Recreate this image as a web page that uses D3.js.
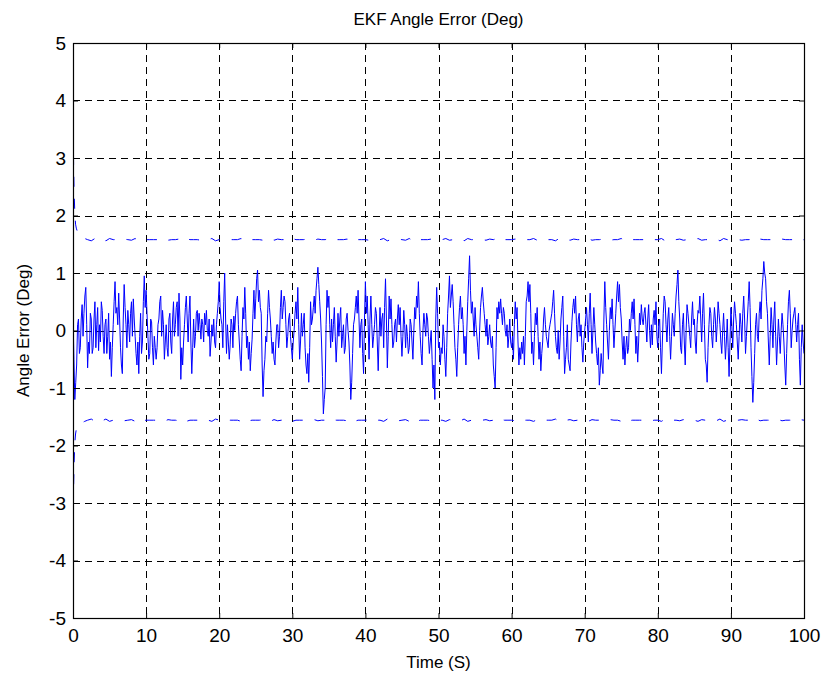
<!DOCTYPE html>
<html><head><meta charset="utf-8">
<script src="https://cdn.jsdelivr.net/npm/d3@7/dist/d3.min.js"></script>
<style>body{margin:0;background:#fff}svg{display:block}</style></head>
<body><svg id="c" width="825" height="679"></svg>
<script>
// ---- data ----
const titleText = "EKF Angle Error (Deg)";
const xLabelText = "Time (S)";
const yLabelText = "Angle Error (Deg)";
const xTicks = [0,10,20,30,40,50,60,70,80,90,100];
const yTicks = [-5,-4,-3,-2,-1,0,1,2,3,4,5];
const sampleStep = 0.25; // seconds between the samples of angleError
const angleError = [
 0.3,-1.2,-0.6,0.2,-0.3,0.45,0.3,0.75,-0.65,-0.4,0.2,-0.3,0.5,0.1,-0.35,-0.2,0.35,-0.4,0.2,-0.1,
 -0.5,-0.8,0.1,0.85,0.4,0.65,-0.3,-0.75,0.8,0.1,0.35,-0.2,0.5,0.55,-0.1,-0.6,-0.75,0.3,-0.2,0.95,
 0.7,-0.1,-0.4,0.15,-0.6,-0.3,-0.3,0.2,0.6,0.35,-0.5,0.1,-0.45,0.3,-0.4,0.5,0.1,0.5,0.65,-0.85,
 -0.6,0.1,0.6,-0.2,0.6,-0.75,0.2,-0.1,0.35,0.3,-0.15,0.1,0.3,0.35,-0.1,-0.45,0.1,0.2,-0.3,0.3,
 0.85,0.2,-0.3,1.0,-0.4,-0.2,-0.25,0.1,0.25,0.3,0.6,-0.2,-0.7,0.4,0.75,-0.3,-0.5,-0.7,-0.15,0.7,
 0.55,1.05,0.7,0.3,-1.15,-0.5,-0.2,0.7,0.2,-0.4,-0.5,-0.2,0.1,-0.1,0.7,0.4,0.5,-0.3,0.2,-0.1,
 -0.5,0.0,0.5,0.75,-0.5,0.3,0.1,-0.3,-0.75,-0.9,0.5,0.2,0.6,0.7,1.1,0.5,-0.2,-1.45,-1.0,0.7,
 0.6,-0.3,-0.2,0.4,-0.55,0.3,0.2,-0.3,0.1,-0.3,0.3,-0.2,-1.2,-0.4,0.2,0.6,0.7,-0.3,0.2,-0.75,
 0.85,0.6,-0.5,0.6,-0.3,0.1,0.3,-0.7,0.4,0.2,-0.3,0.9,-0.65,0.6,0.55,-0.3,0.1,-0.2,0.45,0.4,
 -0.45,0.35,-0.3,-0.1,-0.3,0.1,-0.5,0.4,0.6,0.85,-0.1,-0.6,0.3,-0.1,0.2,-0.4,0.0,-1.0,-1.2,0.75,
 -0.3,-0.6,-0.4,-0.1,-0.8,0.3,0.95,0.6,0.5,-0.3,-0.8,0.1,0.6,0.4,-0.4,-0.6,0.5,1.3,0.3,0.2,
 0.4,-0.1,-0.5,0.4,0.75,0.3,-0.1,-0.25,0.1,-0.3,-0.6,-1.0,0.4,0.5,0.55,0.1,0.3,-0.1,-0.3,0.2,
 -0.3,-0.5,0.5,0.4,-0.6,-0.5,-0.4,-0.6,0.5,0.85,0.8,-0.4,-0.6,0.3,0.4,-0.5,-0.7,-0.2,0.4,-0.1,
 -0.3,0.1,0.3,0.7,-0.1,-0.4,-0.5,0.2,0.6,-0.75,-0.3,-0.5,-0.7,0.15,0.55,0.6,-0.2,0.3,0.1,-0.55,
 0.0,0.4,-0.2,0.65,-0.4,0.4,-0.2,-0.6,-0.95,-0.4,-0.75,0.85,0.1,-0.5,0.4,0.55,-0.3,0.3,0.85,0.8,
 0.2,-0.5,-0.6,-0.1,-0.3,0.0,0.5,0.55,-0.4,-0.55,0.3,0.45,0.1,0.4,-0.2,0.45,-0.3,-0.25,0.35,0.5,
 -0.3,0.2,-0.75,0.3,0.5,-0.2,0.4,-0.5,0.3,-0.1,0.6,1.05,0.2,-0.4,0.3,-0.6,0.45,0.1,-0.3,0.5,
 0.2,-0.4,0.35,0.6,-0.2,0.65,-0.5,-0.9,0.1,0.3,-0.3,0.4,-0.2,0.5,0.1,-0.4,0.3,-0.5,0.2,-0.8,
 0.4,-0.3,0.5,0.1,-0.5,0.3,-0.2,0.6,-0.4,0.2,0.85,-0.3,-1.25,-0.4,0.3,-0.2,0.5,0.7,1.2,0.9,
 0.3,-0.6,0.4,-0.3,0.5,-0.6,0.2,-0.4,0.3,-0.2,-0.95,0.1,0.7,-0.3,0.2,0.4,-0.2,0.3,-0.95,0.1,
 -0.4
];
// samples half-way between those above (t = 0.125, 0.375, ...)
const angleErrorMid = [
 -0.5,-0.9,0.1,-0.4,0.2,-0.1,0.6,0.1,-0.2,0.3,-0.4,0.2,-0.3,0.4,0.1,0.5,-0.1,0.1,-0.4,0.3,
 -0.2,-0.3,0.5,0.3,0.1,0.2,-0.6,0.2,0.4,-0.3,0.1,0.3,-0.1,0.2,-0.4,-0.2,-0.1,-0.4,0.5,0.4,
 0.3,-0.5,0.2,-0.3,-0.1,-0.5,0.1,0.5,-0.1,0.1,-0.2,-0.3,0.2,-0.2,0.2,-0.1,0.4,-0.1,0.2,-0.3,
 -0.2,0.4,0.2,0.3,-0.2,-0.3,-0.3,0.3,0.0,0.1,0.2,-0.2,0.1,0.0,0.2,-0.2,-0.1,-0.2,0.1,0.5,
 0.4,0.1,0.5,0.2,0.1,-0.5,0.2,-0.3,0.0,0.5,0.1,-0.5,-0.1,0.2,0.3,-0.1,-0.2,-0.4,0.3,0.2,
 0.9,0.5,0.4,-0.6,-0.7,-0.1,0.3,0.4,-0.1,-0.2,-0.6,0.1,-0.3,0.4,0.2,0.6,0.1,-0.1,0.3,-0.3,
 -0.2,0.3,0.2,0.1,-0.2,-0.1,0.3,-0.6,-0.4,-0.3,0.1,0.4,0.3,0.9,0.8,0.2,-0.8,-1.2,0.1,0.4,
 0.1,0.2,0.1,-0.1,-0.2,-0.1,0.4,-0.1,-0.4,0.2,0.0,-0.6,-0.9,0.1,0.4,0.3,0.2,0.1,-0.4,0.2,
 0.3,0.1,0.2,0.1,-0.1,0.4,-0.2,-0.1,-0.1,0.3,0.4,0.2,-0.1,0.2,0.1,-0.2,0.2,0.2,0.1,-0.1,
 -0.1,0.1,0.1,-0.4,0.2,-0.2,0.0,0.2,0.4,0.3,-0.4,0.0,0.1,0.3,-0.1,-0.2,-0.5,-0.6,0.2,0.3,
 -0.2,-0.3,0.1,-0.5,-0.3,0.6,0.4,0.8,0.1,-0.5,-0.3,0.4,0.2,0.1,-0.1,0.0,0.9,0.7,0.5,-0.1,
 0.1,-0.3,0.0,0.6,0.5,0.1,0.2,-0.1,-0.2,-0.1,-0.8,-0.3,0.2,0.3,0.3,0.4,0.0,0.1,-0.1,-0.2,
 -0.1,0.1,0.2,-0.2,-0.3,-0.2,-0.1,-0.1,0.6,0.5,0.3,-0.2,-0.1,0.1,-0.1,-0.2,-0.4,0.2,0.1,-0.2,
 0.0,0.2,0.5,0.3,-0.3,0.0,-0.2,0.4,-0.1,-0.5,0.1,-0.6,-0.2,0.4,0.3,0.1,0.2,-0.1,-0.3,-0.2,
 0.2,0.1,0.3,0.1,0.0,0.1,-0.4,-0.3,-0.7,-0.6,0.2,0.4,-0.2,0.0,0.2,0.1,0.0,0.6,0.5,0.4,
 -0.2,-0.1,-0.3,-0.4,0.2,0.3,0.2,0.1,-0.1,-0.2,0.1,0.2,0.3,0.1,0.2,0.0,0.1,0.2,0.1,-0.1,
 0.1,-0.3,-0.2,0.6,0.1,0.2,-0.1,-0.1,0.1,0.3,0.8,0.5,-0.3,0.1,-0.2,0.0,0.3,-0.1,0.2,0.1,
 -0.2,0.1,0.3,0.2,0.3,0.1,-0.6,-0.3,0.4,-0.1,0.1,0.2,0.1,0.3,-0.2,0.0,-0.1,-0.2,-0.3,-0.2,
 0.1,0.2,0.3,-0.2,-0.1,0.1,0.3,0.2,-0.1,0.5,0.4,-0.8,-0.9,0.1,-0.1,0.3,0.2,0.9,1.0,0.5,
 -0.2,-0.1,0.1,0.2,-0.1,-0.2,-0.1,0.0,0.1,-0.6,-0.4,0.5,0.3,0.0,0.3,0.1,0.1,-0.5,-0.3,-0.2
];
// 3-sigma bounds: early transient (time, value) then steady part every 0.5 s from t = 2
const upperEarlyTimes = [0,0.03,0.08,0.15,0.25,0.35,0.45,0.6,0.8,1.0,1.3,1.6];
const upperEarly = [6.5,3.6,2.9,2.4,2.05,1.85,1.78,1.72,1.68,1.66,1.63,1.60];
const lowerEarlyTimes = [0,0.03,0.08,0.15,0.25,0.35,0.45,0.6,0.8,1.0,1.3,1.6];
const lowerEarly = [-6.5,-3.6,-2.75,-2.3,-1.95,-1.8,-1.72,-1.67,-1.64,-1.62,-1.6,-1.58];
const boundStart = 2, boundStep = 0.5;
const upperSteady = [
 1.58,1.56,1.60,1.57,1.59,1.56,1.60,1.58,1.58,1.58,1.59,1.58,1.57,1.60,1.56,1.59,1.58,1.58,1.58,1.58,
 1.58,1.60,1.57,1.58,1.58,1.59,1.56,1.60,1.58,1.58,1.58,1.57,1.59,1.58,1.60,1.56,1.58,1.58,1.59,1.58,
 1.58,1.58,1.60,1.56,1.59,1.58,1.58,1.58,1.57,1.58,1.60,1.57,1.59,1.58,1.58,1.56,1.60,1.58,1.58,1.58,
 1.59,1.58,1.57,1.59,1.58,1.58,1.60,1.57,1.58,1.58,1.58,1.59,1.56,1.60,1.58,1.58,1.58,1.57,1.59,1.58,
 1.58,1.60,1.56,1.58,1.58,1.59,1.58,1.57,1.60,1.56,1.60,1.58,1.58,1.58,1.59,1.57,1.58,1.58,1.60,1.57,
 1.58,1.58,1.59,1.56,1.60,1.58,1.58,1.58,1.58,1.57,1.59,1.58,1.60,1.56,1.58,1.58,1.58,1.59,1.57,1.58,
 1.58,1.58,1.60,1.57,1.59,1.58,1.58,1.58,1.56,1.60,1.58,1.58,1.57,1.59,1.58,1.58,1.58,1.60,1.57,1.58,
 1.58,1.59,1.58,1.57,1.58,1.58,1.60,1.56,1.59,1.58,1.58,1.58,1.58,1.57,1.59,1.58,1.58,1.60,1.56,1.58,
 1.58,1.58,1.59,1.57,1.58,1.58,1.58,1.60,1.57,1.58,1.58,1.58,1.59,1.56,1.60,1.58,1.58,1.58,1.58,1.57,
 1.58,1.58,1.60,1.56,1.59,1.58,1.58,1.58,1.58,1.57,1.59,1.58,1.58,1.58,1.60,1.57,1.58
];
const lowerSteady = [
 -1.56,-1.54,-1.58,-1.55,-1.57,-1.54,-1.58,-1.56,-1.56,-1.56,-1.57,-1.56,-1.55,-1.58,-1.54,-1.57,-1.56,-1.56,-1.56,-1.56,
 -1.56,-1.58,-1.55,-1.56,-1.56,-1.57,-1.54,-1.58,-1.56,-1.56,-1.56,-1.55,-1.57,-1.56,-1.58,-1.54,-1.56,-1.56,-1.57,-1.56,
 -1.56,-1.56,-1.58,-1.54,-1.57,-1.56,-1.56,-1.56,-1.55,-1.56,-1.58,-1.55,-1.57,-1.56,-1.56,-1.54,-1.58,-1.56,-1.56,-1.56,
 -1.57,-1.56,-1.55,-1.57,-1.56,-1.56,-1.58,-1.55,-1.56,-1.56,-1.56,-1.57,-1.54,-1.58,-1.56,-1.56,-1.56,-1.55,-1.57,-1.56,
 -1.56,-1.58,-1.54,-1.56,-1.56,-1.57,-1.56,-1.55,-1.58,-1.54,-1.58,-1.56,-1.56,-1.56,-1.57,-1.55,-1.56,-1.56,-1.58,-1.55,
 -1.56,-1.56,-1.57,-1.54,-1.58,-1.56,-1.56,-1.56,-1.56,-1.55,-1.57,-1.56,-1.58,-1.54,-1.56,-1.56,-1.56,-1.57,-1.55,-1.56,
 -1.56,-1.56,-1.58,-1.55,-1.57,-1.56,-1.56,-1.56,-1.54,-1.58,-1.56,-1.56,-1.55,-1.57,-1.56,-1.56,-1.56,-1.58,-1.55,-1.56,
 -1.56,-1.57,-1.56,-1.55,-1.56,-1.56,-1.58,-1.54,-1.57,-1.56,-1.56,-1.56,-1.56,-1.55,-1.57,-1.56,-1.56,-1.58,-1.54,-1.56,
 -1.56,-1.56,-1.57,-1.55,-1.56,-1.56,-1.56,-1.58,-1.55,-1.56,-1.56,-1.56,-1.57,-1.54,-1.58,-1.56,-1.56,-1.56,-1.56,-1.55,
 -1.56,-1.56,-1.58,-1.54,-1.57,-1.56,-1.56,-1.56,-1.56,-1.55,-1.57,-1.56,-1.56,-1.56,-1.58,-1.55,-1.56
];

// ---- layout ----
const plot = {left: 73, top: 43, right: 804, bottom: 618};
const FONT = "'Liberation Sans', Arial, Helvetica, sans-serif";

const svg = d3.select("#c");
const x = d3.scaleLinear().domain([0, 100]).range([plot.left, plot.right]);
const y = d3.scaleLinear().domain([-5, 5]).range([plot.bottom, plot.top]);

// grid
const grid = svg.append("g").attr("stroke", "#000").attr("stroke-width", 1)
  .attr("stroke-dasharray", "7,5").attr("shape-rendering", "crispEdges");
grid.selectAll("line.v").data(xTicks.slice(1, -1)).join("line")
  .attr("x1", d => Math.round(x(d)) + 0.5).attr("x2", d => Math.round(x(d)) + 0.5)
  .attr("y1", plot.top).attr("y2", plot.bottom);
grid.selectAll("line.h").data(yTicks.slice(1, -1)).join("line")
  .attr("y1", d => Math.round(y(d)) + 0.5).attr("y2", d => Math.round(y(d)) + 0.5)
  .attr("x1", plot.left).attr("x2", plot.right);

// clip
svg.append("clipPath").attr("id", "clip").append("rect")
  .attr("x", plot.left).attr("y", plot.top)
  .attr("width", plot.right - plot.left).attr("height", plot.bottom - plot.top);

const data = [];
angleError.forEach((v, i) => {
  data.push({t: i * sampleStep, v});
  if (i < angleErrorMid.length) data.push({t: i * sampleStep + sampleStep / 2, v: angleErrorMid[i]});
});
const upper = upperEarlyTimes.map((t, i) => ({t, v: upperEarly[i]}))
  .concat(upperSteady.map((v, i) => ({t: boundStart + i * boundStep, v})));
const lower = lowerEarlyTimes.map((t, i) => ({t, v: lowerEarly[i]}))
  .concat(lowerSteady.map((v, i) => ({t: boundStart + i * boundStep, v})));

const line = d3.line().x(d => x(d.t)).y(d => y(d.v));
const marks = svg.append("g").attr("clip-path", "url(#clip)");
marks.append("path").datum(data).attr("d", line)
  .attr("fill", "none").attr("stroke", "#0000ff").attr("stroke-width", 1);
[upper, lower].forEach(b => {
  marks.append("path").datum(b).attr("d", line)
    .attr("fill", "none").attr("stroke", "#0000ff").attr("stroke-width", 1)
    .attr("stroke-dasharray", "10,12");
});

// axes
const fmt = d => String(d);
const xAxis = d3.axisBottom(x).tickValues(xTicks).tickFormat(fmt).tickSizeInner(-5).tickSizeOuter(0).tickPadding(11);
const yAxis = d3.axisLeft(y).tickValues(yTicks).tickFormat(fmt).tickSizeInner(-5).tickSizeOuter(0).tickPadding(7);
const gx = svg.append("g").attr("transform", `translate(0,${plot.bottom})`).call(xAxis);
const gy = svg.append("g").attr("transform", `translate(${plot.left},0)`).call(yAxis);
const gx2 = svg.append("g").attr("transform", `translate(0,${plot.top})`)
  .call(d3.axisTop(x).tickValues(xTicks).tickSizeInner(-5).tickSizeOuter(0).tickFormat(""));
const gy2 = svg.append("g").attr("transform", `translate(${plot.right},0)`)
  .call(d3.axisRight(y).tickValues(yTicks).tickSizeInner(-5).tickSizeOuter(0).tickFormat(""));
[gx, gy, gx2, gy2].forEach(g => {
  g.select(".domain").remove();
  g.selectAll("text").attr("font-family", FONT).attr("font-size", 19).attr("fill", "#000");
  g.selectAll("line").attr("stroke", "#000");
});

// box
svg.append("rect").attr("x", plot.left + 0.5).attr("y", plot.top + 0.5)
  .attr("width", plot.right - plot.left).attr("height", plot.bottom - plot.top)
  .attr("fill", "none").attr("stroke", "#000").attr("stroke-width", 1.2);

// labels
svg.append("text").attr("x", (plot.left + plot.right) / 2).attr("y", 25)
  .attr("text-anchor", "middle").attr("font-family", FONT).attr("font-size", 17).text(titleText);
svg.append("text").attr("x", (plot.left + plot.right) / 2).attr("y", 668)
  .attr("text-anchor", "middle").attr("font-family", FONT).attr("font-size", 17).text(xLabelText);
svg.append("text").attr("transform", `translate(29,${(plot.top + plot.bottom) / 2}) rotate(-90)`)
  .attr("text-anchor", "middle").attr("font-family", FONT).attr("font-size", 17).text(yLabelText);
</script></body></html>
